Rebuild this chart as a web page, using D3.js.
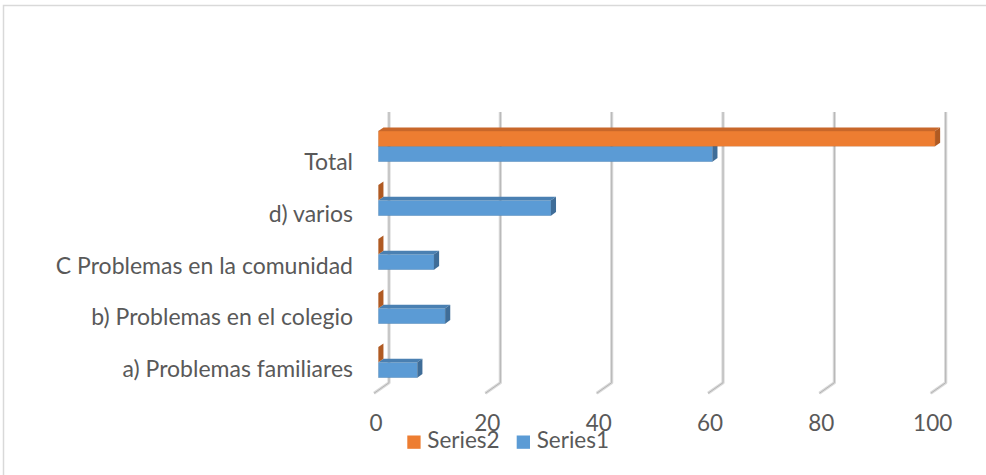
<!DOCTYPE html>
<html>
<head>
<meta charset="utf-8">
<script src="https://cdn.jsdelivr.net/npm/d3@7"></script>
<style>
  html, body { margin: 0; padding: 0; background: #fff; }
  svg { display: block; }
  text { font-family: Lato, "Open Sans", sans-serif; fill: #595959; }
</style>
</head>
<body>
<svg id="chart" width="986" height="475"></svg>
<script>
// Categories, bottom to top as they appear on the axis
const categories = [
  "a) Problemas familiares",
  "b) Problemas en el colegio",
  "C Problemas en la comunidad",
  "d) varios",
  "Total"
];
const series1 = [7, 12, 10, 31, 60];
const series2 = [0, 0, 0, 0, 100];
const seriesNames = ["Series2", "Series1"];
const xTicks = [0, 20, 40, 60, 80, 100];

const svg = d3.select("#chart");

// Outer chart frame
svg.append("rect")
  .attr("x", 3.5).attr("y", 5.5)
  .attr("width", 1000).attr("height", 500)
  .attr("fill", "none").attr("stroke", "#d9d9d9").attr("stroke-width", 1.5);

// 3D layout: floor front edge, back wall and depth direction
const floorFrontY = 393.3, floorBackY = 382.7, wallTop = 112;
const depthX = 15, depthY = floorBackY - floorFrontY;
const xFront = d3.scaleLinear().domain([0, 100]).range([374, 930.7]);

// Bars sit part-way into the floor depth
const barT0 = 0.29, barDepth = 0.34;
const barOX = depthX * barT0;
const bdx = depthX * barDepth, bdy = depthY * barDepth;

// Category bands (Total at the top)
const order = categories.slice().reverse();
const yBand = d3.scaleBand().domain(order)
  .range([119.35, 119.35 + 54 * order.length])
  .paddingInner(0.431).paddingOuter(0.2155);
const ySub = d3.scaleBand().domain(seriesNames).range([0, yBand.bandwidth()]);
const yLabel = d3.scalePoint().domain(order).range([162, 369]);

// Gridlines on the back wall plus their slants across the floor
const grid = svg.append("g");
xTicks.forEach(v => {
  const xb = xFront(v) + depthX, xf = xFront(v);
  const path = `M${xb},${wallTop}L${xb},${floorBackY}L${xf},${floorFrontY}`;
  grid.append("path").attr("d", path).attr("fill", "none")
    .attr("stroke", "#dadada").attr("stroke-width", 3.2).attr("stroke-linejoin", "round");
  grid.append("path").attr("d", path).attr("fill", "none")
    .attr("stroke", "#b4b4b4").attr("stroke-width", 1);
});

// Value tick labels
svg.append("g").selectAll("text").data(xTicks).join("text")
  .attr("x", d => xFront(d) + 2)
  .attr("y", 431)
  .attr("text-anchor", "middle")
  .attr("font-size", 22.5)
  .text(d => d);

// Category labels
svg.append("g").selectAll("text").data(order).join("text")
  .attr("x", 353)
  .attr("y", d => yLabel(d))
  .attr("dy", "0.35em")
  .attr("text-anchor", "end")
  .attr("font-size", 23)
  .text(d => d);

// 3D bar painter
const colors = {
  Series1: { front: "#5b9bd5", top: "#4a80b2", side: "#3f6d98" },
  Series2: { front: "#ed7d31", top: "#c8672a", side: "#b05a22" }
};
function bar3d(g, v, yTop, h, c) {
  const x0 = xFront(0) + barOX, x1 = xFront(v) + barOX;
  if (x1 > x0) {
    g.append("rect").attr("x", x0).attr("y", yTop)
      .attr("width", x1 - x0).attr("height", h)
      .attr("fill", c.front).attr("stroke", "rgba(0,0,0,0.12)").attr("stroke-width", 0.6);
    g.append("path")
      .attr("d", `M${x0},${yTop}L${x1},${yTop}L${x1 + bdx},${yTop + bdy}L${x0 + bdx},${yTop + bdy}Z`)
      .attr("fill", c.top);
  }
  g.append("path")
    .attr("d", `M${x1},${yTop}L${x1 + bdx},${yTop + bdy}L${x1 + bdx},${yTop + h + bdy}L${x1},${yTop + h}Z`)
    .attr("fill", c.side);
}

const bars = svg.append("g");
categories.forEach((cat, i) => {
  const yb = yBand(cat);
  bar3d(bars, series1[i], yb + ySub("Series1"), ySub.bandwidth(), colors.Series1);
  bar3d(bars, series2[i], yb + ySub("Series2"), ySub.bandwidth(), colors.Series2);
});

// Legend
const legendItems = [
  { name: "Series2", color: colors.Series2.front, x: 407.3 },
  { name: "Series1", color: colors.Series1.front, x: 516.7 }
];
const lg = svg.append("g").selectAll("g").data(legendItems).join("g")
  .attr("transform", d => `translate(${d.x},435.5)`);
lg.append("rect").attr("width", 13.3).attr("height", 13.3).attr("fill", d => d.color);
lg.append("text").attr("x", 20).attr("y", 12.5).attr("font-size", 22.5).text(d => d.name);
</script>
</body>
</html>
